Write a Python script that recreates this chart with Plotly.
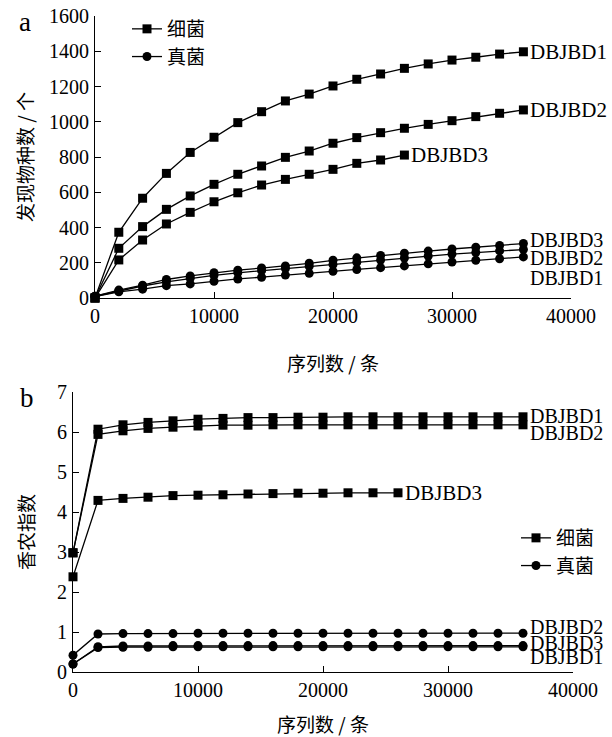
import plotly.graph_objects as go

# ---------------- data ----------------
seq_full = [0, 2000, 4000, 6000, 8000, 10000, 12000, 14000, 16000, 18000,
            20000, 22000, 24000, 26000, 28000, 30000, 32000, 34000, 36000]
seq_short = [0, 2000, 4000, 6000, 8000, 10000, 12000, 14000, 16000, 18000,
             20000, 22000, 24000, 26000]

# panel a: observed species
bac_obs_d1 = [0, 373, 566, 707, 826, 912, 995, 1057, 1118, 1157, 1203, 1241,
              1271, 1303, 1328, 1350, 1366, 1384, 1397]
bac_obs_d2 = [0, 282, 405, 503, 579, 645, 702, 749, 798, 834, 878, 910,
              938, 963, 985, 1006, 1029, 1048, 1067]
bac_obs_d3 = [0, 216, 329, 420, 486, 546, 597, 641, 673, 702, 730, 764,
              783, 811]
fun_obs_d3 = [10, 45, 73, 105, 125, 143, 158, 170, 182, 197, 214, 228,
              241, 254, 266, 278, 288, 298, 309]
fun_obs_d2 = [10, 40, 68, 92, 112, 128, 143, 155, 167, 180, 190, 203,
              215, 227, 238, 249, 258, 267, 275]
fun_obs_d1 = [8, 35, 50, 70, 80, 95, 108, 118, 130, 140, 152, 162,
              172, 182, 194, 204, 214, 223, 233]

# panel b: Shannon index
bac_sh_d1 = [2.98, 6.07, 6.18, 6.24, 6.28, 6.32, 6.34, 6.36, 6.36, 6.37,
             6.37, 6.38, 6.38, 6.38, 6.38, 6.38, 6.38, 6.38, 6.38]
bac_sh_d2 = [2.98, 5.94, 6.03, 6.09, 6.12, 6.15, 6.17, 6.17, 6.18, 6.18,
             6.18, 6.18, 6.18, 6.18, 6.18, 6.18, 6.18, 6.18, 6.18]
bac_sh_d3 = [2.38, 4.29, 4.34, 4.37, 4.41, 4.42, 4.43, 4.45, 4.46, 4.47,
             4.47, 4.48, 4.48, 4.48]
fun_sh_d2 = [0.42, 0.95, 0.96, 0.96, 0.96, 0.97, 0.97, 0.97, 0.97, 0.97,
             0.97, 0.97, 0.97, 0.97, 0.97, 0.97, 0.97, 0.97, 0.97]
fun_sh_d3 = [0.20, 0.63, 0.65, 0.65, 0.66, 0.66, 0.66, 0.66, 0.66, 0.66,
             0.66, 0.66, 0.66, 0.66, 0.66, 0.66, 0.66, 0.66, 0.66]
fun_sh_d1 = [0.20, 0.61, 0.62, 0.62, 0.63, 0.63, 0.63, 0.63, 0.63, 0.63,
             0.63, 0.63, 0.63, 0.63, 0.63, 0.63, 0.63, 0.63, 0.63]

legend_names = ["细菌", "真菌"]
sample_names = ["DBJBD1", "DBJBD2", "DBJBD3"]
ya_ticks = [0, 200, 400, 600, 800, 1000, 1200, 1400, 1600]
yb_ticks = [0, 1, 2, 3, 4, 5, 6, 7]
x_ticks = [0, 10000, 20000, 30000, 40000]
x_ticktext = ["0", "10000", "20000", "30000", "40000"]

# ---------------- style ----------------
W, H = 612, 737
FONT = "Liberation Serif, Noto Sans CJK SC, serif"
CJK = "Noto Sans CJK SC, Liberation Serif, serif"
LW = 1.3
MS = 9

fig = go.Figure()


def add(x, y, symbol, xa, ya, name=None, legend=None):
    fig.add_trace(go.Scatter(
        x=x, y=y, mode="lines+markers",
        line=dict(color="black", width=LW),
        marker=dict(symbol=symbol, size=MS, color="black"),
        xaxis=xa, yaxis=ya, cliponaxis=False,
        name=name if name else "", showlegend=name is not None,
        legend=legend if legend else "legend",
        hoverinfo="skip"))


# panel a
add(seq_full, bac_obs_d1, "square", "x", "y", legend_names[0], "legend")
add(seq_full, bac_obs_d2, "square", "x", "y")
add(seq_short, bac_obs_d3, "square", "x", "y")
add(seq_full, fun_obs_d3, "circle", "x", "y", legend_names[1], "legend")
add(seq_full, fun_obs_d2, "circle", "x", "y")
add(seq_full, fun_obs_d1, "circle", "x", "y")

# panel b
add(seq_full, bac_sh_d1, "square", "x2", "y2", legend_names[0], "legend2")
add(seq_full, bac_sh_d2, "square", "x2", "y2")
add(seq_short, bac_sh_d3, "square", "x2", "y2")
add(seq_full, fun_sh_d2, "circle", "x2", "y2", legend_names[1], "legend2")
add(seq_full, fun_sh_d3, "circle", "x2", "y2")
add(seq_full, fun_sh_d1, "circle", "x2", "y2")

axis_common = dict(
    showline=True, linecolor="black", linewidth=1.2,
    ticks="inside", ticklen=6, tickwidth=1.2, tickcolor="black",
    showgrid=False, zeroline=False, mirror=False, automargin=False,
    tickfont=dict(family=FONT, size=20, color="black"),
)

fig.update_layout(
    width=W, height=H,
    margin=dict(l=0, r=0, t=0, b=0, autoexpand=False),
    paper_bgcolor="white", plot_bgcolor="white",
    font=dict(family=FONT, size=20, color="black"),
    xaxis=dict(domain=[95 / W, 571 / W], range=[0, 40000], tickvals=x_ticks,
               ticktext=x_ticktext, anchor="y", **axis_common),
    yaxis=dict(domain=[1 - 298 / H, 1 - 16 / H], range=[0, 1600],
               tickvals=ya_ticks, anchor="x", ticklabelstandoff=1, **axis_common),
    xaxis2=dict(domain=[73 / W, 573 / W], range=[0, 40000], tickvals=x_ticks,
                ticktext=x_ticktext, anchor="y2", **axis_common),
    yaxis2=dict(domain=[1 - 672 / H, 1 - 392 / H], range=[0, 7],
                tickvals=yb_ticks, anchor="x2", ticklabelstandoff=1, **axis_common),
    legend=dict(x=127 / W, y=1 - 10 / H, xanchor="left", yanchor="top",
                font=dict(family=CJK, size=19), bgcolor="rgba(0,0,0,0)",
                itemwidth=30, tracegroupgap=0),
    legend2=dict(x=516 / W, y=1 - 519 / H, xanchor="left", yanchor="top",
                 font=dict(family=CJK, size=19), bgcolor="rgba(0,0,0,0)",
                 itemwidth=30, tracegroupgap=0),
    showlegend=True,
)

ann = []


def end_label(text, xs, ys, xa, ya, yshift=0, size=21):
    ann.append(dict(x=xs[-1], y=ys[-1], xref=xa, yref=ya, text=text,
                    showarrow=False, xanchor="left", yanchor="middle",
                    xshift=6, yshift=yshift, borderpad=0,
                    font=dict(family=FONT, size=size, color="black")))


# panel a end labels
end_label(sample_names[0], seq_full, bac_obs_d1, "x", "y")
end_label(sample_names[1], seq_full, bac_obs_d2, "x", "y")
end_label(sample_names[2], seq_short, bac_obs_d3, "x", "y")
end_label(sample_names[2], seq_full, fun_obs_d3, "x", "y", yshift=4, size=20)
end_label(sample_names[1], seq_full, fun_obs_d2, "x", "y", yshift=-8, size=20)
end_label(sample_names[0], seq_full, fun_obs_d1, "x", "y", yshift=-21, size=20)

# panel b end labels
end_label(sample_names[0], seq_full, bac_sh_d1, "x2", "y2", yshift=1, size=20)
end_label(sample_names[1], seq_full, bac_sh_d2, "x2", "y2", yshift=-8, size=20)
end_label(sample_names[2], seq_short, bac_sh_d3, "x2", "y2")
end_label(sample_names[1], seq_full, fun_sh_d2, "x2", "y2", yshift=6, size=20)
end_label(sample_names[2], seq_full, fun_sh_d3, "x2", "y2", yshift=3, size=20)
end_label(sample_names[0], seq_full, fun_sh_d1, "x2", "y2", yshift=-10, size=20)

# panel letters
ann.append(dict(x=25 / W, y=1 - 22 / H, xref="paper", yref="paper", text="a",
                showarrow=False, xanchor="center", yanchor="middle",
                font=dict(family=FONT, size=27, color="black")))
ann.append(dict(x=27 / W, y=1 - 398 / H, xref="paper", yref="paper", text="b",
                showarrow=False, xanchor="center", yanchor="middle",
                font=dict(family=FONT, size=27, color="black")))

# axis titles
ann.append(dict(x=0.5, y=1 - 362 / H, xref="x domain", yref="paper",
                text="序列数 / 条", showarrow=False, xanchor="center",
                yanchor="middle", font=dict(family=CJK, size=19, color="black")))
ann.append(dict(x=0.5, y=1 - 723 / H, xref="x2 domain", yref="paper",
                text="序列数 / 条", showarrow=False, xanchor="center",
                yanchor="middle", font=dict(family=CJK, size=19, color="black")))
ann.append(dict(x=25 / W, y=0.5, xref="paper", yref="y domain",
                text="发现物种数 / 个", showarrow=False, textangle=-90,
                xanchor="center", yanchor="middle",
                font=dict(family=CJK, size=19, color="black")))
ann.append(dict(x=25 / W, y=0.5, xref="paper", yref="y2 domain",
                text="香农指数", showarrow=False, textangle=-90,
                xanchor="center", yanchor="middle",
                font=dict(family=CJK, size=19, color="black")))

fig.update_layout(annotations=ann)

fig.write_html(
    "out.html",
    config={"displayModeBar": False},
    post_script="document.body.style.margin='0';"
                "document.body.style.overflow='hidden';",
)
